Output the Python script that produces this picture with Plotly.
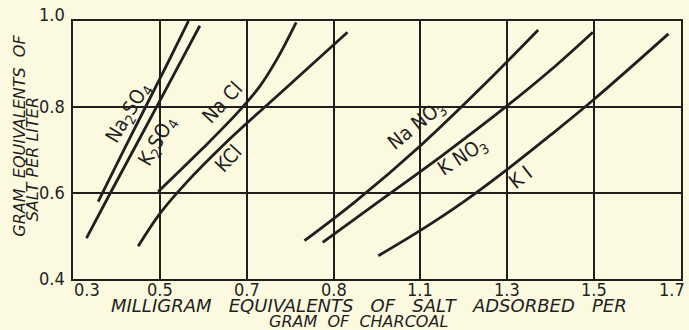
import plotly.graph_objects as go

# ---- data ----
na2so4_x = [0.358, 0.412, 0.467, 0.517, 0.566]
na2so4_y = [0.580, 0.690, 0.800, 0.900, 1.000]

k2so4_x = [0.331, 0.386, 0.503, 0.592]
k2so4_y = [0.495, 0.600, 0.820, 0.989]

nacl_x = [0.496, 0.600, 0.680, 0.730, 0.770, 0.814]
nacl_y = [0.603, 0.705, 0.788, 0.848, 0.912, 0.997]

kcl_x = [0.450, 0.500, 0.560, 0.653, 0.800, 0.932]
kcl_y = [0.476, 0.552, 0.623, 0.718, 0.853, 0.974]

nano3_x = [0.833, 0.950, 1.100, 1.250, 1.371]
nano3_y = [0.489, 0.580, 0.710, 0.855, 0.979]

kno3_x = [0.875, 1.000, 1.150, 1.300, 1.400, 1.497]
kno3_y = [0.485, 0.577, 0.687, 0.803, 0.886, 0.974]

ki_x = [1.003, 1.100, 1.200, 1.300, 1.400, 1.500, 1.671]
ki_y = [0.454, 0.513, 0.580, 0.655, 0.735, 0.818, 0.970]

x_tickvals = [0.3, 0.5, 0.7, 0.9, 1.1, 1.3, 1.5, 1.7]
x_ticktext = ["0.3", "0.5", "0.7", "0.8", "1.1", "1.3", "1.5", "1.7"]
y_tickvals = [0.4, 0.6, 0.8, 1.0]
y_ticktext = ["0.4", "0.6", "0.8", "1.0"]

# curve labels: text, x, y, angle
labels = [
    ("Na<sub>2</sub>SO<sub>4</sub>", 0.428, 0.785, -59),
    ("K<sub>2</sub>SO<sub>4</sub>", 0.495, 0.720, -60),
    ("Na Cl", 0.644, 0.812, -47),
    ("KCl", 0.656, 0.680, -47),
    ("Na NO<sub>3</sub>", 1.092, 0.757, -39),
    ("K NO<sub>3</sub>", 1.196, 0.684, -33),
    ("K I", 1.331, 0.637, -38),
]

ink = "rgb(35,30,30)"
paper = "rgb(251,249,223)"
lab_font = "Liberation Sans Narrow, DejaVu Sans Condensed, DejaVu Sans, sans-serif"
title_font = "DejaVu Sans, sans-serif"

fig = go.Figure()
for xs, ys in [(na2so4_x, na2so4_y), (k2so4_x, k2so4_y), (nacl_x, nacl_y),
               (kcl_x, kcl_y), (nano3_x, nano3_y), (kno3_x, kno3_y), (ki_x, ki_y)]:
    fig.add_trace(go.Scatter(x=xs, y=ys, mode="lines",
                             line=dict(color=ink, width=2.8, shape="spline", smoothing=1.0),
                             showlegend=False, hoverinfo="skip"))

for txt, lx, ly, ang in labels:
    fig.add_annotation(x=lx, y=ly, text=txt, showarrow=False, textangle=ang,
                       font=dict(family=lab_font, size=20, color=ink))

# x tick labels (placed on the x scale)
for i, (tv, tt) in enumerate(zip(x_tickvals, x_ticktext)):
    kw = dict(xanchor="center", xshift=0)
    if i == 0:
        kw = dict(xanchor="center", xshift=14)
    elif i == len(x_tickvals) - 1:
        kw = dict(xanchor="right", xshift=6)
    fig.add_annotation(x=tv, xref="x", y=0, yref="paper", yshift=2, yanchor="top",
                       text=tt, showarrow=False,
                       font=dict(family=lab_font, size=18, color=ink), **kw)
# y tick labels (placed on the y scale)
for i, (tv, tt) in enumerate(zip(y_tickvals, y_ticktext)):
    fig.add_annotation(y=tv, yref="y", x=0, xref="paper", xshift=-6, xanchor="right",
                       yshift=(7 if i == len(y_tickvals) - 1 else 1),
                       text=tt, showarrow=False,
                       font=dict(family=lab_font, size=18, color=ink))

# axis titles
fig.add_annotation(x=0.487, xref="paper", y=-0.103, yref="paper", yanchor="middle",
                   text="<i>MILLIGRAM   EQUIVALENTS   OF   SALT   ADSORBED   PER</i>",
                   showarrow=False, font=dict(family=title_font, size=18, color=ink))
fig.add_annotation(x=0.470, xref="paper", y=-0.164, yref="paper", yanchor="middle",
                   text="<i>GRAM  OF  CHARCOAL</i>",
                   showarrow=False, font=dict(family=title_font, size=16, color=ink))
fig.add_annotation(x=-0.0895, xref="paper", xanchor="center", y=0.554, yref="paper",
                   text="<i>GRAM  EQUIVALENTS  OF</i>", textangle=-90,
                   showarrow=False, font=dict(family=title_font, size=16, color=ink))
fig.add_annotation(x=-0.067, xref="paper", xanchor="center", y=0.465, yref="paper",
                   text="<i>SALT PER LITER</i>", textangle=-90,
                   showarrow=False, font=dict(family=title_font, size=16, color=ink))

fig.update_xaxes(range=[0.3, 1.7], tickvals=x_tickvals, showticklabels=False,
                 showgrid=True, gridcolor=ink, gridwidth=1.6, zeroline=False,
                 showline=True, linecolor=ink, linewidth=2.4, mirror=True, ticks="")
fig.update_yaxes(range=[0.4, 1.0], tickvals=y_tickvals, showticklabels=False,
                 showgrid=True, gridcolor=ink, gridwidth=1.6, zeroline=False,
                 showline=True, linecolor=ink, linewidth=2.4, mirror=True, ticks="")

fig.update_layout(width=689, height=330,
                  margin=dict(l=73, r=6, t=21, b=51),
                  paper_bgcolor=paper, plot_bgcolor=paper)

fig.write_html("out.html", config={"displayModeBar": False},
               post_script="document.body.style.margin='0';"
                           "document.body.style.background='rgb(251,249,223)';"
                           "document.body.style.overflow='hidden';")
